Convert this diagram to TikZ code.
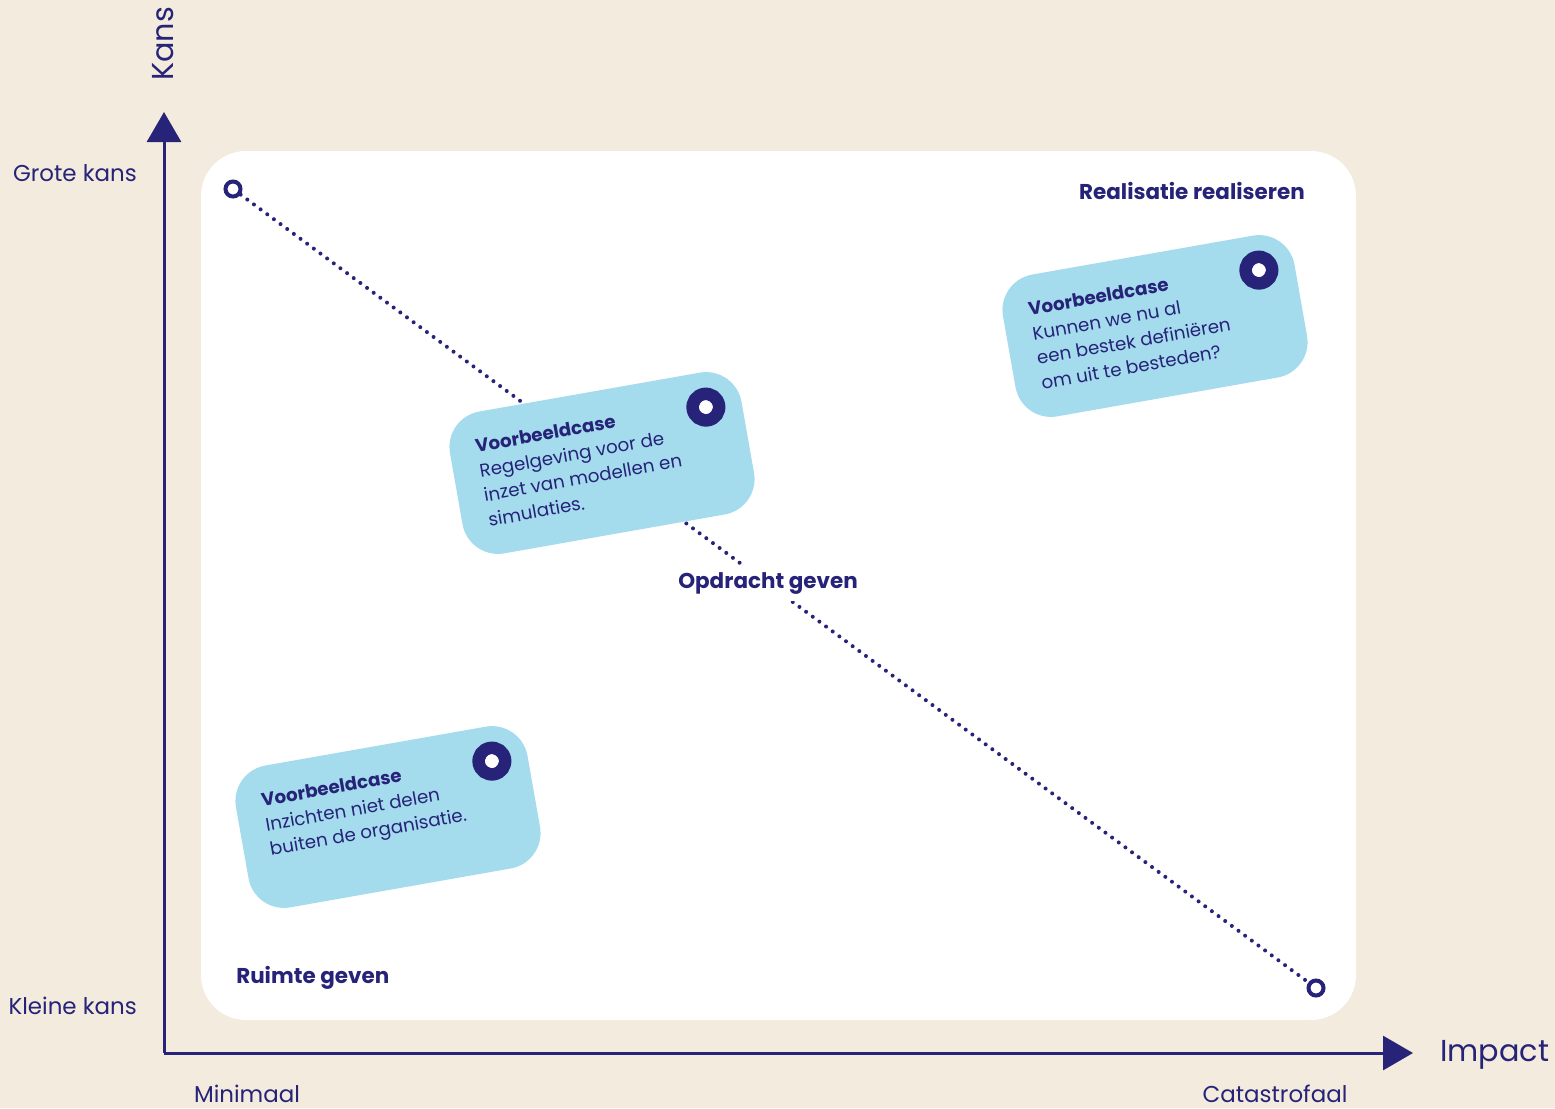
\documentclass[tikz,border=0pt]{standalone}
\usepackage{fontspec}
\setmainfont{Poppins}
\usepackage{xcolor}
\usepackage{tikz}
\usetikzlibrary{positioning,arrows.meta}
\definecolor{cream}{RGB}{243,235,221}
\definecolor{navy}{RGB}{38,35,120}
\definecolor{cardblue}{RGB}{164,220,238}
\tikzset{
  axislabel/.style={text=navy, font=\fontsize{17.2}{20}\selectfont, inner sep=0pt},
  biglabel/.style={text=navy, font=\fontsize{22.7}{27}\selectfont, inner sep=0pt},
  zonelabel/.style={text=navy, font=\fontsize{16.1}{19}\selectfont\bfseries, inner sep=0pt},
  card/.style={fill=cardblue, rounded corners=27pt, minimum width=222pt, minimum height=108pt, inner sep=0pt},
  cardtext/.style={text=navy, font=\fontsize{13.7}{18.8}\selectfont, align=left, inner sep=0pt, anchor=north west},
  ring/.style={circle, draw=navy, fill=white, line width=9.4pt, minimum size=19.9pt, inner sep=0pt},
  endpoint/.style={circle, draw=navy, fill=white, line width=3pt, minimum size=11.25pt, inner sep=0pt},
  axis/.style={draw=navy, line width=2.25pt, -{Triangle[length=22.5pt, width=25.5pt]}}
}
\begin{document}
\begin{tikzpicture}[x=0.75pt, y=-0.75pt]
  \fill[cream] (0,0) rectangle (1555,1108);
  \useasboundingbox (0,0) rectangle (1555,1108);
  % panel
  \fill[white, rounded corners=33.75pt] (201,151) rectangle (1356,1020);

  % axes
  \coordinate (origin) at (164,1053);
  \coordinate (ytip) at (164,112);
  \coordinate (xtip) at (1413,1053);
  \draw[axis] (origin) -- (ytip);
  \draw[axis] (origin) -- (xtip);
  \node[biglabel, rotate=90] (kans) at (163,44) {Kans};
  \node[biglabel, anchor=west] (impact) at (1440,1055) {Impact};
  \node[axislabel, anchor=east] (grote) at (137,173) {Grote kans};
  \node[axislabel, anchor=east] (kleine) at (137,1006) {Kleine kans};
  \node[axislabel] (minimaal) at (247,1094) {Minimaal};
  \node[axislabel] (catastrofaal) at (1275,1094) {Catastrofaal};

  % diagonal
  \node[endpoint] (high) at (233,189) {};
  \node[endpoint] (low) at (1316,988) {};
  \draw[navy, line width=3pt, line cap=round, dash pattern=on 0pt off 6.2pt] (high) -- (low);
  \node[zonelabel, fill=white, inner sep=5pt] (opdracht) at (768,583) {Opdracht geven};

  \node[zonelabel, anchor=east] (realisatie) at (1305,191) {Realisatie realiseren};
  \node[zonelabel, anchor=west] (ruimte) at (236,978) {Ruimte geven};

  % cards
  \begin{scope}[shift={(602,463)}, rotate=10, transform shape]
    \node[card] (card1) at (0,0) {};
    \node[ring] (ring1) at (112,-37) {};
    \node[cardtext] (text1) at (-122,-46) {\textbf{Voorbeeldcase}\\Regelgeving voor de\\inzet van modellen en\\simulaties.};
  \end{scope}
  \begin{scope}[shift={(1155,326)}, rotate=10, transform shape]
    \node[card] (card2) at (0,0) {};
    \node[ring] (ring2) at (112,-37) {};
    \node[cardtext] (text2) at (-122,-46) {\textbf{Voorbeeldcase}\\Kunnen we nu al\\een bestek definiëren\\om uit te besteden?};
  \end{scope}
  \begin{scope}[shift={(388,817)}, rotate=10, transform shape]
    \node[card] (card3) at (0,0) {};
    \node[ring] (ring3) at (112,-37) {};
    \node[cardtext] (text3) at (-122,-46) {\textbf{Voorbeeldcase}\\Inzichten niet delen\\buiten de organisatie.};
  \end{scope}
\end{tikzpicture}
\end{document}
